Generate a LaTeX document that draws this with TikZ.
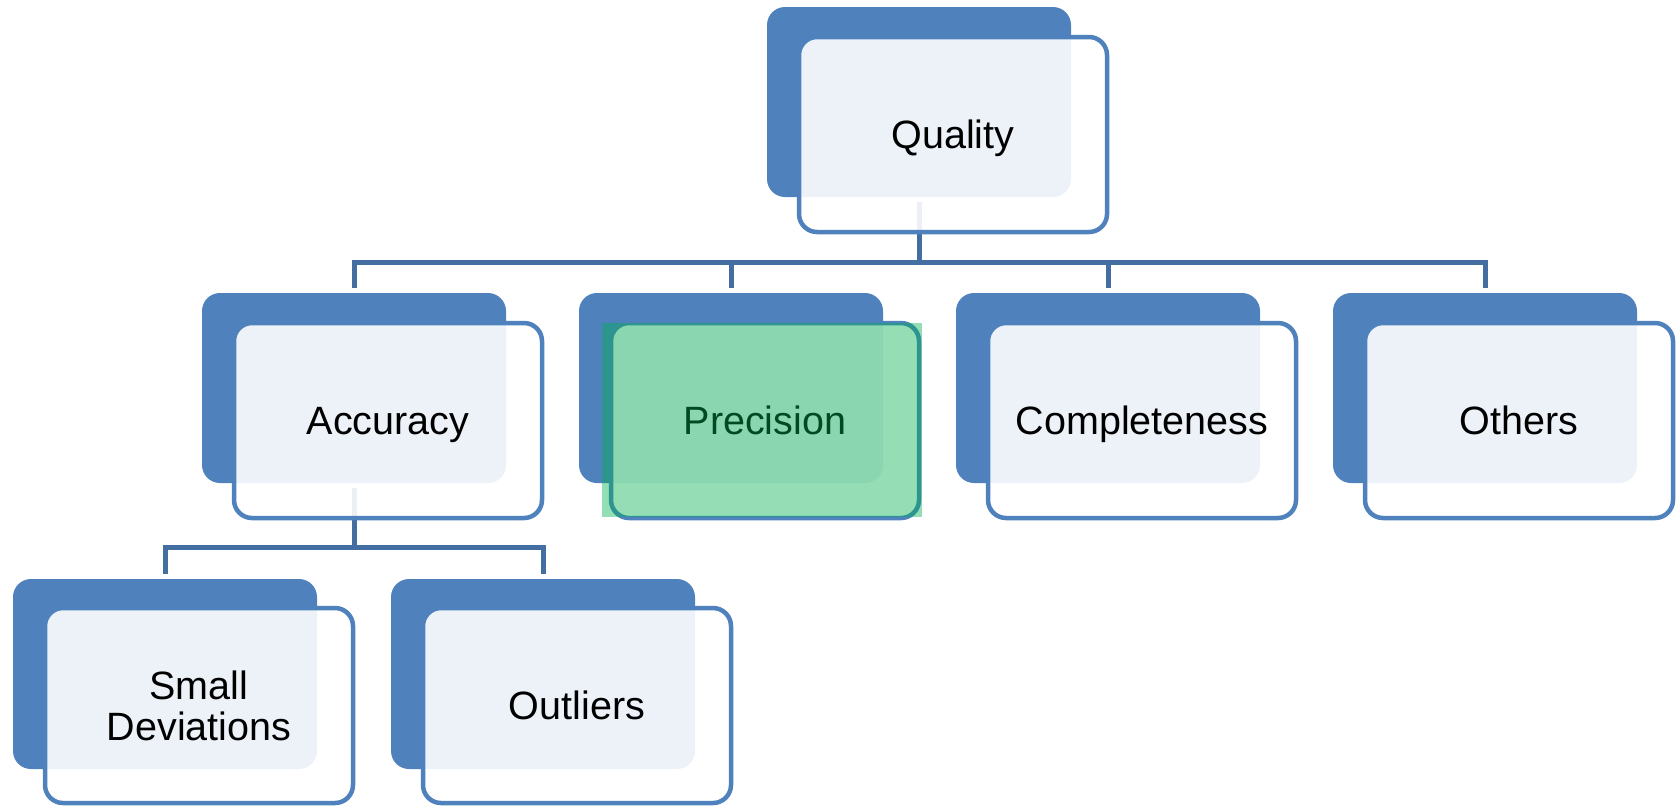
\documentclass[tikz,border=0pt]{standalone}
\usepackage{fontspec}
\setmainfont{Liberation Sans}
\definecolor{boxblue}{RGB}{79,129,189}
\definecolor{linkblue}{RGB}{67,110,161}
\definecolor{hilite}{RGB}{0,176,80}
\begin{document}
\begin{tikzpicture}[x=0.5pt,y=-0.5pt,
  back/.style={rectangle, rounded corners=9pt, fill=boxblue,
    minimum width=152pt, minimum height=95pt,
    outer sep=0pt, inner sep=0pt, anchor=north west},
  front/.style={rectangle, rounded corners=9pt, draw=boxblue, line width=2.25pt,
    fill=white, fill opacity=0.9, text opacity=1,
    minimum width=154pt, minimum height=97.5pt, text depth=0pt,
    outer sep=0pt, inner sep=0pt, anchor=north west, align=center,
    font=\fontsize{19.75}{20.5}\selectfont},
  link/.style={draw=linkblue, line width=2.5pt,
    shorten <=2.5pt, shorten >=2.5pt}]
\useasboundingbox (0,0) rectangle (1679,805);

% back plates
\node[back] (qback) at (767,7) {};
\node[back] (aback) at (202,293) {};
\node[back] (pback) at (579,293) {};
\node[back] (cback) at (956,293) {};
\node[back] (oback) at (1333,293) {};
\node[back] (sback) at (13,579) {};
\node[back] (lback) at (391,579) {};

% tree connectors
\draw[link] (qback.south) -- ++(0,65) -| (aback.north);
\draw[link] (qback.south) -- ++(0,65) -| (pback.north);
\draw[link] (qback.south) -- ++(0,65) -| (cback.north);
\draw[link] (qback.south) -- ++(0,65) -| (oback.north);
\draw[link] (aback.south) -- ++(0,64) -| (sback.north);
\draw[link] (aback.south) -- ++(0,64) -| (lback.north);

% front cards with labels
\node[front] (qfront) at (799,37) {Quality};
\node[front] (afront) at (234,323) {Accuracy};
\node[front] (pfront) at (611,323) {Precision};
\node[front] (cfront) at (988,323) {Completeness};
\node[front] (ofront) at (1365,323) {Others};
\node[front] (sfront) at (45,608) {Small\\Deviations};
\node[front] (lfront) at (423,608) {Outliers};

% highlight over the selected card
\fill[hilite, opacity=0.42] (602,323) rectangle (922,517);
\end{tikzpicture}
\end{document}
